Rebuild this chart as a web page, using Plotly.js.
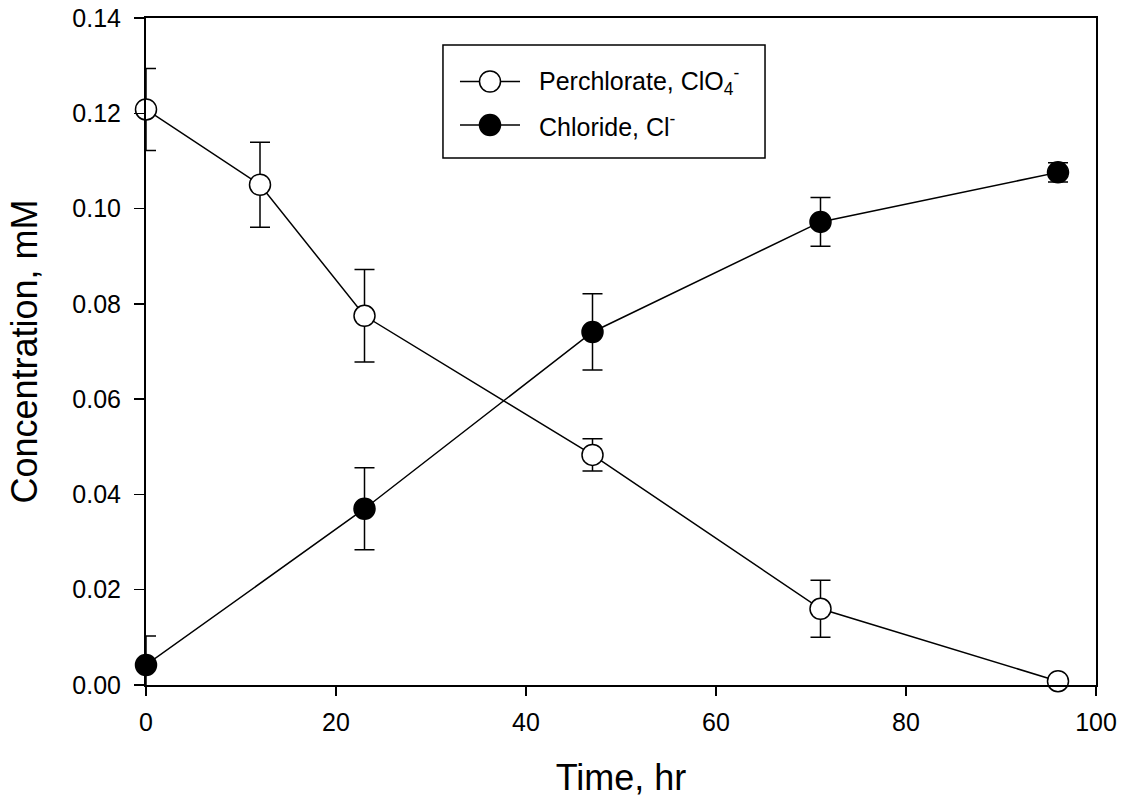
<!DOCTYPE html>
<html>
<head>
<meta charset="utf-8">
<script src="https://cdn.plot.ly/plotly-3.0.1.min.js"></script>
<style>html,body{margin:0;padding:0;background:#fff;}#chart{width:1125px;height:801px;}</style>
</head>
<body>
<div id="chart"></div>
<script>
const timeHr = [0, 12, 23, 47, 71, 96];
const perchlorate = [0.1208, 0.1050, 0.0775, 0.0483, 0.0160, 0.0008];
const perchlorateErr = [0.0086, 0.0089, 0.0097, 0.0034, 0.0060, 0.0000];
const chlorideTime = [0, 23, 47, 71, 96];
const chloride = [0.0042, 0.0370, 0.0741, 0.0972, 0.1076];
const chlorideErr = [0.0061, 0.0086, 0.0080, 0.0051, 0.0020];
const xTicks = [0, 20, 40, 60, 80, 100];
const yTicks = [0.00, 0.02, 0.04, 0.06, 0.08, 0.10, 0.12, 0.14];
const seriesNames = ['Perchlorate, ClO<sub>4</sub><sup>-</sup>', 'Chloride, Cl<sup>-</sup>'];
const markerFills = ['#fff', '#000'];

const FONT = 'Liberation Sans, Arial, sans-serif';

const traces = [
  {
    x: timeHr, y: perchlorate, name: seriesNames[0],
    type: 'scatter', mode: 'lines+markers', cliponaxis: false, showlegend: false,
    line: {color: '#000', width: 1.5},
    marker: {symbol: 'circle', size: 21, color: markerFills[0], line: {color: '#000', width: 1.5}},
    error_y: {type: 'data', array: perchlorateErr, visible: true, color: '#000', thickness: 1.5, width: 10}
  },
  {
    x: chlorideTime, y: chloride, name: seriesNames[1],
    type: 'scatter', mode: 'lines+markers', cliponaxis: false, showlegend: false,
    line: {color: '#000', width: 1.5},
    marker: {symbol: 'circle', size: 21, color: markerFills[1], line: {color: '#000', width: 1.5}},
    error_y: {type: 'data', array: chlorideErr, visible: true, color: '#000', thickness: 1.5, width: 10}
  }
];

// Custom legend (paper coordinates)
const legBox = {x0: 0.3126, x1: 0.6516, y0: 0.7901, y1: 0.9595};
const legRowsY = [0.9048, 0.8396];
const legLineX = [0.3305, 0.3937];
const legMarkX = 0.3621;
const legTextX = 0.4116;

const shapes = [
  {type: 'rect', xref: 'paper', yref: 'paper', x0: legBox.x0, x1: legBox.x1, y0: legBox.y0, y1: legBox.y1,
   line: {color: '#000', width: 1.5}, fillcolor: '#fff', layer: 'above'}
];
const annotations = [];
legRowsY.forEach((yy, i) => {
  shapes.push({type: 'line', xref: 'paper', yref: 'paper', x0: legLineX[0], x1: legLineX[1], y0: yy, y1: yy,
    line: {color: '#000', width: 1.5}, layer: 'above'});
  shapes.push({type: 'circle', xref: 'paper', yref: 'paper', xsizemode: 'pixel', ysizemode: 'pixel',
    xanchor: legMarkX, yanchor: yy, x0: -10.5, x1: 10.5, y0: -10.5, y1: 10.5,
    line: {color: '#000', width: 1.5}, fillcolor: markerFills[i], layer: 'above'});
  annotations.push({xref: 'paper', yref: 'paper', x: legTextX, y: yy, xanchor: 'left', yanchor: 'middle',
    text: seriesNames[i], showarrow: false, font: {family: FONT, size: 25, color: '#000'}});
});

const layout = {
  width: 1125, height: 801,
  margin: {l: 146, r: 29, t: 18, b: 116},
  paper_bgcolor: '#fff', plot_bgcolor: '#fff',
  font: {family: FONT, color: '#000', size: 25},
  showlegend: false,
  shapes: shapes,
  annotations: annotations,
  xaxis: {
    range: [0, 100], tickvals: xTicks, ticktext: xTicks.map(String),
    showgrid: false, zeroline: false, showline: true, mirror: true,
    linecolor: '#000', linewidth: 2,
    ticks: 'outside', ticklen: 9, tickwidth: 1.5, tickcolor: '#000',
    ticklabelstandoff: 5,
    tickfont: {family: FONT, size: 25},
    title: {text: 'Time, hr', font: {family: FONT, size: 36}, standoff: 30}
  },
  yaxis: {
    range: [0, 0.14], tickvals: yTicks, ticktext: yTicks.map(v => v.toFixed(2)),
    showgrid: false, zeroline: false, showline: true, mirror: true,
    linecolor: '#000', linewidth: 2,
    ticks: 'outside', ticklen: 10, tickwidth: 1.5, tickcolor: '#000',
    ticklabelstandoff: 8,
    tickfont: {family: FONT, size: 25},
    title: {text: 'Concentration, mM', font: {family: FONT, size: 36}, standoff: 24}
  }
};

Plotly.newPlot('chart', traces, layout, {displayModeBar: false, staticPlot: true});
</script>
</body>
</html>
